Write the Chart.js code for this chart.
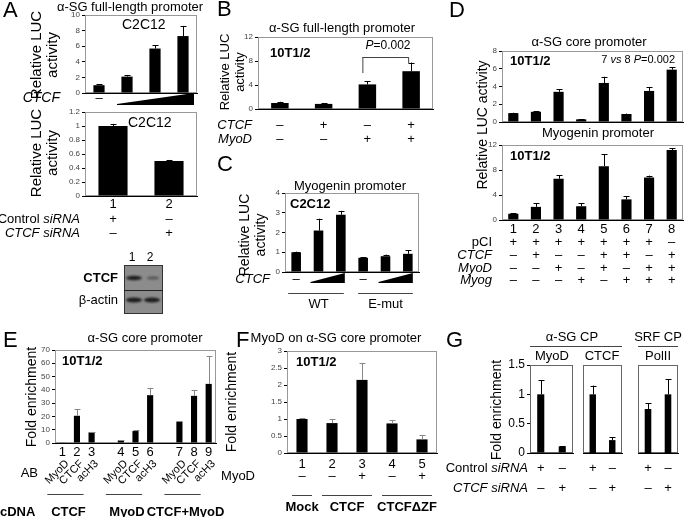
<!DOCTYPE html>
<html lang="en">
<head>
<meta charset="UTF-8">
<title>CTCF / MyoD figure</title>
<script src="https://cdn.jsdelivr.net/npm/chart.js"></script>
<style>
  body { margin: 0; background: #fff; }
  #wrap { position: relative; width: 685px; height: 517px; background: #fff; }
  #wrap canvas { position: absolute; left: 0; top: 0; }
</style>
</head>
<body>
<div id="wrap"></div>
<script>
// ---- data ----
// A (top): α-SG full-length promoter, C2C12, increasing CTCF
const aTopCats = ['none', 'low', 'mid', 'high'];
const aTopLuc = [1.0, 2.1, 5.7, 7.3];
const aTopErr = [0.1, 0.2, 0.4, 1.3];
const aTopYTicks = [0, 2, 4, 6, 8, 10];
// A (bottom): siRNA knock-down
const aBotCats = ['1', '2'];
const aBotLuc = [1.0, 0.5];
const aBotErr = [0.03, 0.015];
const aBotYTicks = [0, 0.2, 0.4, 0.6, 0.8, 1, 1.2];
const aBotControl = ['+', '–'];
const aBotCtcfSi = ['–', '+'];
// B: α-SG full-length promoter, 10T1/2
const bCats = ['1', '2', '3', '4'];
const bLuc = [1.0, 0.85, 4.1, 6.3];
const bErr = [0.2, 0.15, 0.55, 1.45];
const bYTicks = [0, 2, 4, 6, 8, 10, 12];
const bCtcf = ['–', '+', '–', '+'];
const bMyoD = ['–', '–', '+', '+'];
// C: Myogenin promoter, C2C12
const cCats = ['WT-0', 'WT-1', 'WT-2', 'Emut-0', 'Emut-1', 'Emut-2'];
const cLuc = [1.0, 2.1, 2.9, 0.72, 0.8, 0.92];
const cErr = [0.03, 0.6, 0.2, 0.03, 0.08, 0.17];
const cYTicks = [0, 1, 2, 3, 4];
// D: core and myogenin promoters, 10T1/2
const dCats = ['1', '2', '3', '4', '5', '6', '7', '8'];
const dCoreLuc = [1.0, 1.15, 3.4, 0.3, 4.4, 0.9, 3.5, 5.9];
const dCoreErr = [0.05, 0.05, 0.3, 0.03, 0.7, 0.05, 0.45, 0.3];
const dCoreYTicks = [0, 2, 4, 6, 8];
const dMyogLuc = [1.0, 2.1, 6.6, 2.2, 8.6, 3.3, 6.8, 11.2];
const dMyogErr = [0.1, 0.6, 0.55, 0.5, 1.9, 0.5, 0.3, 0.3];
const dMyogYTicks = [0, 2, 4, 6, 8, 10, 12];
const dPCI  = ['+', '+', '+', '+', '+', '+', '+', '–'];
const dCTCF = ['–', '+', '–', '–', '+', '+', '–', '+'];
const dMyoD = ['–', '–', '+', '–', '+', '–', '+', '+'];
const dMyog = ['–', '–', '–', '+', '–', '+', '+', '+'];
// E: ChIP on α-SG core promoter
const eCats = ['1', '2', '3', '', '4', '5', '6', '', '7', '8', '9'];
const eAb = ['MyoD', 'CTCF', 'acH3', '', 'MyoD', 'CTCF', 'acH3', '', 'MyoD', 'CTCF', 'acH3'];
const eFold = [0.4, 20.5, 8, null, 2, 9, 36, null, 16, 35.5, 44.5];
const eErr = [0.1, 5, 0.4, null, 0.3, 0.5, 5.5, null, 0.5, 4.5, 21];
const eYTicks = [0, 10, 20, 30, 40, 50, 60, 70];
const eCdna = ['CTCF', 'MyoD', 'CTCF+MyoD'];
// F: MyoD on α-SG core promoter
const fCats = ['1', '2', '3', '4', '5'];
const fFold = [1.0, 0.88, 2.15, 0.87, 0.4];
const fErr = [0.02, 0.11, 0.5, 0.1, 0.12];
const fYTicks = [0, 0.5, 1, 1.5, 2, 2.5, 3];
const fMyoD = ['–', '–', '+', '–', '+'];
const fCdna = ['Mock', 'CTCF', 'CTCFΔZF'];
// G: ChIP after siRNA
const gCats = ['control', 'ctcf'];
const gMyoD = [1.0, 0.11];
const gMyoDErr = [0.24, 0.01];
const gCTCF = [1.0, 0.22];
const gCTCFErr = [0.15, 0.05];
const gPolII = [0.75, 1.0];
const gPolIIErr = [0.1, 0.26];
const gYTicks = [0, 0.5, 1, 1.5];
const gControl = ['+', '–'];
const gCtcfSi = ['–', '+'];

// ---- drawing helpers ----
const W = 685, H = 517, YW = 26;
const FAM = '"Liberation Sans", Arial, sans-serif';
const font = (st, size) => (st || '') + ' ' + size + 'px ' + FAM;

function T(ctx, s, x, y, o = {}) {
  ctx.save();
  ctx.font = font(o.st, o.size || 13);
  ctx.fillStyle = o.color || '#000';
  ctx.textAlign = o.align || 'center';
  ctx.textBaseline = 'middle';
  if (o.rot) { ctx.translate(x, y); ctx.rotate(o.rot); ctx.fillText(s, 0, 0); }
  else ctx.fillText(s, x, y);
  ctx.restore();
}
function R(ctx, segs, x, y, size, align) {
  ctx.save();
  ctx.textBaseline = 'middle'; ctx.textAlign = 'left'; ctx.fillStyle = '#000';
  let w = 0;
  segs.forEach(s => { ctx.font = font(s[1], size); w += ctx.measureText(s[0]).width; });
  let sx = align === 'right' ? x - w : align === 'center' ? x - w / 2 : x;
  segs.forEach(s => { ctx.font = font(s[1], size); ctx.fillText(s[0], sx, y); sx += ctx.measureText(s[0]).width; });
  ctx.restore();
}
function line(ctx, x0, y0, x1, y1, col) {
  ctx.save(); ctx.strokeStyle = col || '#444'; ctx.lineWidth = 1;
  ctx.beginPath(); ctx.moveTo(x0, y0); ctx.lineTo(x1, y1); ctx.stroke(); ctx.restore();
}
function wedge(ctx, x0, x1, yb, yt) {
  ctx.save(); ctx.fillStyle = '#000'; ctx.beginPath();
  ctx.moveTo(x0, yb); ctx.lineTo(x1, yb); ctx.lineTo(x1, yt); ctx.lineTo(x0, yb - 1); ctx.closePath(); ctx.fill(); ctx.restore();
}
function row(ctx, c, vals, y, size) {
  vals.forEach((v, i) => { if (v) T(ctx, v, c.scales.x.getPixelForValue(i), y, { size: size || 13 }); });
}

function mk(o) {
  const cv = document.createElement('canvas');
  cv.width = W; cv.height = H;
  document.getElementById('wrap').appendChild(cv);
  const [l, t, r, b] = o.box;
  const yt = o.yTicks;
  const show = o.showTicks !== false;
  return new Chart(cv, {
    type: 'bar',
    data: { labels: o.cats, datasets: [{ data: o.values, backgroundColor: '#000', barPercentage: o.bar, categoryPercentage: 1 }] },
    options: {
      responsive: false, animation: false, events: [],
      layout: { padding: { left: l - YW, top: t, right: W - r, bottom: H - b - 1 } },
      plugins: { legend: { display: false }, tooltip: { enabled: false } },
      scales: {
        x: { grid: { display: false }, ticks: { display: false }, border: { color: '#000' },
             afterFit: s => { s.height = 1; } },
        y: { min: yt[0], max: yt[yt.length - 1],
             afterFit: s => { s.width = YW; },
             afterBuildTicks: s => { s.ticks = yt.map(v => ({ value: v })); },
             ticks: { display: show, font: { size: o.tickSize || 8, family: FAM }, color: o.tickColor || '#444', padding: 2,
                      callback: v => String(+(+v).toFixed(2)) },
             grid: { display: show, drawOnChartArea: false, tickLength: 3, color: '#000' },
             border: { color: '#000' } }
      }
    },
    plugins: [{
      id: 'deco',
      beforeDatasetsDraw(c) {
        const a = c.chartArea, ctx = c.ctx;
        ctx.save(); ctx.strokeStyle = o.frame || '#999'; ctx.lineWidth = 1;
        ctx.strokeRect(a.left + 0.5, a.top + 0.5, a.right - a.left - 1, a.bottom - a.top - 1);
        ctx.restore();
      },
      afterDatasetsDraw(c) {
        const ctx = c.ctx, ys = c.scales.y, m = c.getDatasetMeta(0);
        ctx.save(); ctx.strokeStyle = o.errColor || '#000'; ctx.lineWidth = 1;
        m.data.forEach((el, i) => {
          const e = o.errs[i];
          if (!e || o.values[i] == null) return;
          const y0 = ys.getPixelForValue(o.values[i]);
          const y1 = ys.getPixelForValue(o.values[i] + e);
          const x = Math.round(el.x) + 0.5;
          ctx.beginPath(); ctx.moveTo(x, y0); ctx.lineTo(x, y1);
          ctx.moveTo(x - 3, Math.round(y1) + 0.5); ctx.lineTo(x + 3, Math.round(y1) + 0.5); ctx.stroke();
        });
        ctx.restore();
      },
      afterDraw(c) { if (o.draw) o.draw(c.ctx, c); }
    }]
  });
}
const cx = (c, i) => c.scales.x.getPixelForValue(i);

// ---- A ----
mk({ box: [85, 15, 197, 93], cats: aTopCats, values: aTopLuc, errs: aTopErr, yTicks: aTopYTicks, bar: 0.4,
  draw(ctx, c) {
    T(ctx, 'A', 3, 11, { size: 22, align: 'left' });
    T(ctx, 'α-SG full-length promoter', 130, 7, { size: 13 });
    T(ctx, 'C2C12', 122, 25, { size: 14, align: 'left' });
    T(ctx, 'Relative LUC', 37, 55, { size: 15, rot: -Math.PI / 2 });
    T(ctx, 'activity', 53, 55, { size: 15, rot: -Math.PI / 2 });
    T(ctx, 'CTCF', 60, 98, { size: 14, st: 'italic', align: 'right' });
    T(ctx, '–', cx(c, 0), 98, { size: 13 });
    wedge(ctx, cx(c, 1) - 10, cx(c, 3) + 11, 105, 93);
  } });
mk({ box: [85, 112, 197, 196], cats: aBotCats, values: aBotLuc, errs: aBotErr, yTicks: aBotYTicks, bar: 0.52,
  draw(ctx, c) {
    T(ctx, 'C2C12', 128, 123, { size: 14, align: 'left' });
    T(ctx, 'Relative LUC', 37, 153, { size: 15, rot: -Math.PI / 2 });
    T(ctx, 'activity', 53, 153, { size: 15, rot: -Math.PI / 2 });
    row(ctx, c, aBotCats, 204, 13);
    R(ctx, [['Control ', ''], ['siRNA', 'italic']], 80, 219, 13, 'right');
    R(ctx, [['CTCF siRNA', 'italic']], 80, 233, 13, 'right');
    row(ctx, c, aBotControl, 219);
    row(ctx, c, aBotCtcfSi, 233);
    // western blot inset
    T(ctx, '1', 132, 258, { size: 12 });
    T(ctx, '2', 150, 258, { size: 12 });
    T(ctx, 'CTCF', 118, 278, { size: 13, st: 'bold', align: 'right' });
    T(ctx, 'β-actin', 118, 300, { size: 13, align: 'right' });
    ctx.save();
    ctx.fillStyle = '#8c8c8c'; ctx.fillRect(124, 265, 39, 49);
    ctx.strokeStyle = '#333'; ctx.strokeRect(124.5, 265.5, 38, 48);
    line(ctx, 124, 290.5, 163, 290.5, '#222');
    ctx.filter = 'blur(1px)';
    ctx.fillStyle = '#1c1c1c';
    ctx.beginPath(); ctx.ellipse(134, 278, 8, 2.2, 0, 0, 2 * Math.PI); ctx.fill();
    ctx.fillStyle = '#555';
    ctx.beginPath(); ctx.ellipse(153, 278, 6, 1.6, 0, 0, 2 * Math.PI); ctx.fill();
    ctx.fillStyle = '#1c1c1c';
    ctx.beginPath(); ctx.ellipse(134, 300, 8, 2.4, 0, 0, 2 * Math.PI); ctx.fill();
    ctx.beginPath(); ctx.ellipse(152, 300, 8, 2.4, 0, 0, 2 * Math.PI); ctx.fill();
    ctx.restore();
  } });

// ---- B ----
mk({ box: [258, 37, 433, 109], cats: bCats, values: bLuc, errs: bErr, yTicks: bYTicks, bar: 0.4,
  draw(ctx, c) {
    T(ctx, 'B', 217, 10, { size: 22, align: 'left' });
    T(ctx, 'α-SG full-length promoter', 342, 28, { size: 13 });
    T(ctx, '10T1/2', 270, 53, { size: 13, st: 'bold', align: 'left' });
    R(ctx, [['P', 'italic'], ['=0.002', '']], 388, 46, 12, 'center');
    const x2 = cx(c, 2) - 5, x3 = cx(c, 3) - 3;
    line(ctx, x2, 57.5, x3, 57.5);
    line(ctx, x2 + 0.5, 57, x2 + 0.5, 73);
    line(ctx, x3 + 0.5, 57, x3 + 0.5, 63);
    T(ctx, 'Relative LUC', 225, 72, { size: 13, rot: -Math.PI / 2 });
    T(ctx, 'activity', 240, 72, { size: 13, rot: -Math.PI / 2 });
    R(ctx, [['CTCF', 'italic']], 252, 125, 13, 'right');
    R(ctx, [['MyoD', 'italic']], 252, 139, 13, 'right');
    row(ctx, c, bCtcf, 125);
    row(ctx, c, bMyoD, 139);
  } });

// ---- C ----
mk({ box: [285, 193, 419, 272], cats: cCats, values: cLuc, errs: cErr, yTicks: cYTicks, bar: 0.43,
  draw(ctx, c) {
    T(ctx, 'C', 217, 165, { size: 22, align: 'left' });
    T(ctx, 'Myogenin promoter', 350, 186, { size: 13 });
    T(ctx, 'C2C12', 290, 204, { size: 13, st: 'bold', align: 'left' });
    T(ctx, 'Relative LUC', 245, 235, { size: 14, rot: -Math.PI / 2 });
    T(ctx, 'activity', 261, 235, { size: 14, rot: -Math.PI / 2 });
    R(ctx, [['CTCF', 'italic']], 270, 279, 13, 'right');
    T(ctx, '–', cx(c, 0), 279);
    T(ctx, '–', cx(c, 3), 279);
    wedge(ctx, cx(c, 1) - 8, cx(c, 2) + 4, 283, 273);
    wedge(ctx, cx(c, 4) - 7, cx(c, 5) + 5, 283, 273);
    line(ctx, cx(c, 0) - 8, 293.5, cx(c, 2) + 3, 293.5);
    line(ctx, cx(c, 3) - 5, 293.5, cx(c, 5) + 5, 293.5);
    T(ctx, 'WT', (cx(c, 0) + cx(c, 2)) / 2, 304);
    T(ctx, 'E-mut', (cx(c, 3) + cx(c, 5)) / 2, 304);
  } });

// ---- D ----
mk({ box: [502, 51, 683, 122], cats: dCats, values: dCoreLuc, errs: dCoreErr, yTicks: dCoreYTicks, bar: 0.45,
  draw(ctx, c) {
    T(ctx, 'D', 449, 11, { size: 22, align: 'left' });
    T(ctx, 'α-SG core promoter', 589, 42, { size: 13 });
    T(ctx, '10T1/2', 510, 61, { size: 13, st: 'bold', align: 'left' });
    R(ctx, [['7 ', ''], ['vs', 'italic'], [' 8 ', ''], ['P', 'italic'], ['=0.002', '']], 675, 60, 11, 'right');
    T(ctx, 'Relative LUC activity', 483, 125, { size: 14, rot: -Math.PI / 2 });
  } });
mk({ box: [502, 145, 683, 220], cats: dCats, values: dMyogLuc, errs: dMyogErr, yTicks: dMyogYTicks, bar: 0.45,
  draw(ctx, c) {
    T(ctx, 'Myogenin promoter', 598, 133, { size: 13 });
    T(ctx, '10T1/2', 510, 156, { size: 13, st: 'bold', align: 'left' });
    row(ctx, c, dCats, 229, 13);
    R(ctx, [['pCI', '']], 492, 242, 13, 'right');
    R(ctx, [['CTCF', 'italic']], 492, 255, 13, 'right');
    R(ctx, [['MyoD', 'italic']], 492, 268, 13, 'right');
    R(ctx, [['Myog', 'italic']], 492, 280, 13, 'right');
    row(ctx, c, dPCI, 242);
    row(ctx, c, dCTCF, 255);
    row(ctx, c, dMyoD, 268);
    row(ctx, c, dMyog, 280);
  } });

// ---- E ----
mk({ box: [55, 350, 216, 443], cats: eCats, values: eFold, errs: eErr, yTicks: eYTicks, bar: 0.42, errColor: '#888',
  draw(ctx, c) {
    T(ctx, 'E', 3, 341, { size: 22, align: 'left' });
    T(ctx, 'α-SG core promoter', 145, 338, { size: 13 });
    T(ctx, '10T1/2', 62, 361, { size: 13, st: 'bold', align: 'left' });
    T(ctx, 'Fold enrichment', 32, 397, { size: 14, rot: -Math.PI / 2 });
    row(ctx, c, eCats, 452, 13);
    T(ctx, 'AB', 38, 473, { size: 13, align: 'right' });
    eAb.forEach((s, i) => { if (s) T(ctx, s, cx(c, i) + 5, 462, { size: 11, align: 'right', rot: -Math.PI / 4 }); });
    T(ctx, 'cDNA', 0, 512, { size: 13, st: 'bold', align: 'left' });
    [[0, 2], [4, 6], [8, 10]].forEach((g, k) => {
      const x0 = cx(c, g[0]) - 15, x1 = cx(c, g[1]) - 8;
      line(ctx, x0, 494.5, x1, 494.5);
      T(ctx, eCdna[k], (x0 + x1) / 2 + 3, 512, { size: 13, st: 'bold' });
    });
  } });

// ---- F ----
mk({ box: [287, 351, 437, 453], cats: fCats, values: fFold, errs: fErr, yTicks: fYTicks, bar: 0.37, errColor: '#888',
  draw(ctx, c) {
    T(ctx, 'F', 236, 341, { size: 22, align: 'left' });
    T(ctx, 'MyoD on α-SG core promoter', 336, 338, { size: 13 });
    T(ctx, '10T1/2', 296, 362, { size: 13, st: 'bold', align: 'left' });
    T(ctx, 'Fold enrichment', 232, 402, { size: 14, rot: -Math.PI / 2 });
    row(ctx, c, fCats, 464, 13);
    T(ctx, 'MyoD', 255, 476, { size: 13, align: 'right' });
    row(ctx, c, fMyoD, 476);
    [[0, 0], [1, 2], [3, 4]].forEach((g, k) => {
      const x0 = cx(c, g[0]) - 10, x1 = cx(c, g[1]) + 10;
      line(ctx, x0, 495.5, x1, 495.5);
      T(ctx, fCdna[k], (x0 + x1) / 2, 507, { size: 13, st: 'bold' });
    });
  } });

// ---- G ----
mk({ box: [530, 365, 573, 453], cats: gCats, values: gMyoD, errs: gMyoDErr, yTicks: gYTicks, bar: 0.33,
  tickSize: 12, tickColor: '#000', frame: '#666',
  draw(ctx, c) {
    T(ctx, 'G', 446, 341, { size: 22, align: 'left' });
    T(ctx, 'α-SG CP', 572, 337, { size: 13 });
    line(ctx, 530, 346.5, 622, 346.5);
    T(ctx, 'SRF CP', 658, 337, { size: 13 });
    line(ctx, 638, 346.5, 678, 346.5);
    T(ctx, 'MyoD', 552, 356, { size: 13 });
    T(ctx, 'Fold enrichment', 497, 410, { size: 14, rot: -Math.PI / 2 });
    R(ctx, [['Control ', ''], ['siRNA', 'italic']], 528, 468, 13, 'right');
    R(ctx, [['CTCF siRNA', 'italic']], 528, 488, 13, 'right');
    row(ctx, c, gControl, 468);
    row(ctx, c, gCtcfSi, 488);
  } });
mk({ box: [583, 365, 622, 453], cats: gCats, values: gCTCF, errs: gCTCFErr, yTicks: gYTicks, bar: 0.33,
  showTicks: false, frame: '#666',
  draw(ctx, c) {
    T(ctx, 'CTCF', 602, 356, { size: 13 });
    row(ctx, c, gControl, 468);
    row(ctx, c, gCtcfSi, 488);
  } });
mk({ box: [638, 365, 678, 453], cats: gCats, values: gPolII, errs: gPolIIErr, yTicks: gYTicks, bar: 0.33,
  showTicks: false, frame: '#666',
  draw(ctx, c) {
    T(ctx, 'PolII', 658, 356, { size: 13 });
    row(ctx, c, gControl, 468);
    row(ctx, c, gCtcfSi, 488);
  } });
</script>
</body>
</html>
